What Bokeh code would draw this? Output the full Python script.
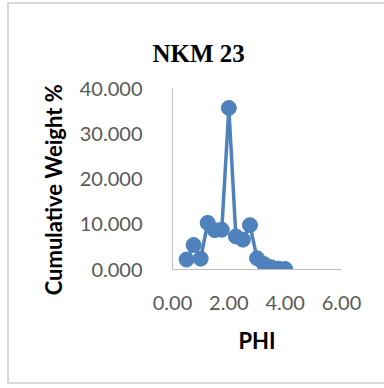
from bokeh.plotting import figure
from bokeh.models import Title, NumeralTickFormatter, FixedTicker, Range1d
from bokeh.embed import file_html
from bokeh.resources import INLINE

phi = [0.5, 0.75, 1.0, 1.25, 1.5, 1.75, 2.0, 2.25, 2.5, 2.75, 3.0, 3.25, 3.5, 3.75, 4.0]
weight = [2.2, 5.4, 2.4, 10.3, 8.7, 8.8, 35.7, 7.3, 6.6, 9.8, 2.5, 1.2, 0.5, 0.2, 0.1]
x_ticks = [0, 2, 4, 6]
y_ticks = [0, 10, 20, 30, 40]

p = figure(width=383, height=382, output_backend="svg", toolbar_location=None,
           x_range=Range1d(0, 6), y_range=Range1d(0, 40),
           min_border_left=163, min_border_right=51, min_border_top=84, min_border_bottom=117)
p.styles = {"border": "2px solid #d9d9d9", "margin-left": "7px", "margin-top": "2px"}
p.outline_line_color = None
p.grid.visible = False

p.line(phi, weight, line_color="#4f81bd", line_width=3.5)
p.scatter(phi, weight, size=15, fill_color="#4f81bd", line_color="#4f81bd")

for ax in (p.xaxis[0], p.yaxis[0]):
    ax.axis_line_color = "#bfbfbf"
    ax.axis_line_width = 1
    ax.major_tick_line_color = None
    ax.minor_tick_line_color = None
    ax.major_label_text_font = "Lato"
    ax.major_label_text_font_size = "20px"
    ax.major_label_text_color = "#595959"
    ax.axis_label_text_font = "Lato"
    ax.axis_label_text_font_style = "bold"
    ax.axis_label_text_font_size = "22px"
    ax.axis_label_text_color = "#000000"

p.xaxis.ticker = FixedTicker(ticks=x_ticks)
p.yaxis.ticker = FixedTicker(ticks=y_ticks)
p.xaxis.formatter = NumeralTickFormatter(format="0.00")
p.yaxis.formatter = NumeralTickFormatter(format="0.000")
p.xaxis.axis_label = "PHI"
p.yaxis.axis_label = "Cumulative Weight %\u00a0\u00a0\u00a0\u00a0"
p.xaxis.major_label_standoff = 20
p.yaxis.major_label_standoff = 24
p.xaxis.axis_label_standoff = 14
p.yaxis.axis_label_standoff = 10

p.add_layout(Title(text="NKM 23", align="left", offset=-20, standoff=40,
                   vertical_align="top",
                   text_font="Liberation Serif", text_font_style="bold",
                   text_font_size="25px", text_color="#000000"), "above")

open("out.html", "w").write(file_html(p, INLINE))
